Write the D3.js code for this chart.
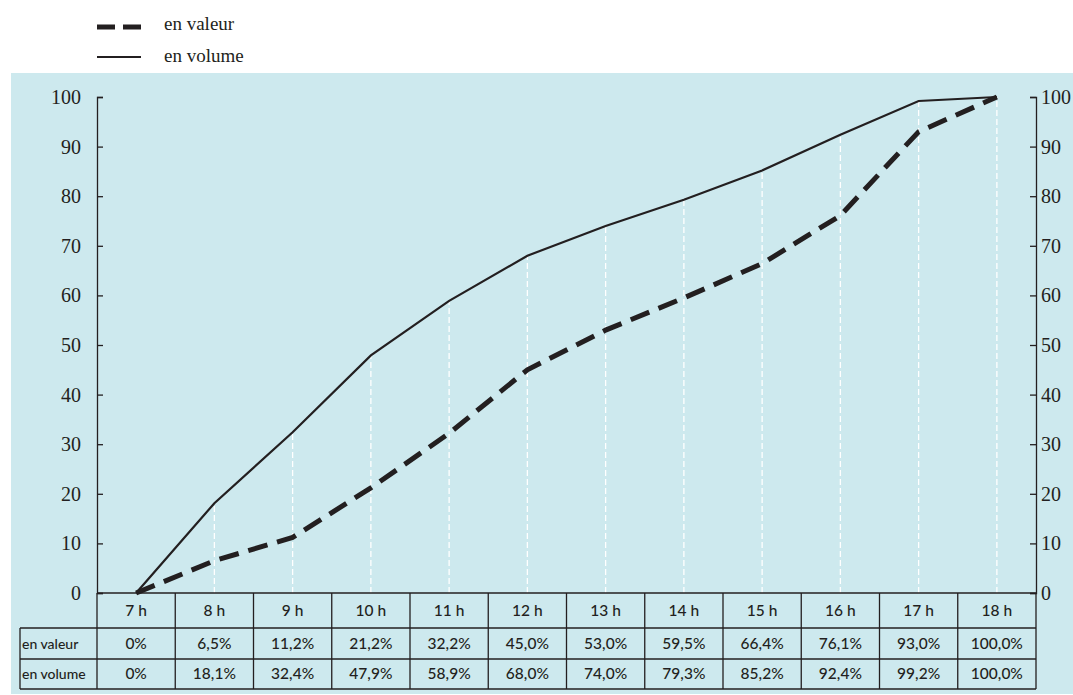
<!DOCTYPE html>
<html>
<head>
<meta charset="utf-8">
<script src="https://cdn.jsdelivr.net/npm/d3@7"></script>
<style>
  body { margin: 0; background: #fff; }
  svg { display: block; }
  .serif { font-family: "Liberation Serif", "Times New Roman", "DejaVu Serif", serif; }
  .sans { font-family: Lato, "Open Sans", sans-serif; }
</style>
</head>
<body>
<svg id="chart" width="1073" height="695"></svg>
<script>
const hours = ["7 h","8 h","9 h","10 h","11 h","12 h","13 h","14 h","15 h","16 h","17 h","18 h"];
const enValeur = [0, 6.5, 11.2, 21.2, 32.2, 45.0, 53.0, 59.5, 66.4, 76.1, 93.0, 100];
const enVolume = [0, 18.1, 32.4, 47.9, 58.9, 68.0, 74.0, 79.3, 85.2, 92.4, 99.2, 100];
const valeurLabels = ["0%","6,5%","11,2%","21,2%","32,2%","45,0%","53,0%","59,5%","66,4%","76,1%","93,0%","100,0%"];
const volumeLabels = ["0%","18,1%","32,4%","47,9%","58,9%","68,0%","74,0%","79,3%","85,2%","92,4%","99,2%","100,0%"];
const yTicks = [0,10,20,30,40,50,60,70,80,90,100];
const seriesNames = ["en valeur", "en volume"];

(function () {
const svg = d3.select("#chart");
const ink = "#231f20";

const pL = 97, pR = 1036, pT = 97, pB = 593;

// background
svg.append("rect").attr("x", 11).attr("y", 73).attr("width", 1062).attr("height", 621).attr("fill", "#cde9ee");

const x = d3.scaleBand().domain(hours).range([pL, pR]).padding(0);
const xc = d => x(d) + x.bandwidth() / 2;
const y = d3.scaleLinear().domain([0, 100]).range([pB, pT]);

// grid lines (white dashed, up to volume line)
svg.append("g").selectAll("line").data(hours).join("line")
  .attr("x1", d => xc(d)).attr("x2", d => xc(d))
  .attr("y1", pB).attr("y2", (d, i) => y(enVolume[i]))
  .attr("stroke", "#fff").attr("stroke-width", 1.3).attr("stroke-dasharray", "6,3");

// axes
const yAxisL = d3.axisLeft(y).tickValues(yTicks).tickSize(-6).tickPadding(16);
const gL = svg.append("g").attr("transform", `translate(${pL},0)`).call(yAxisL);
const yAxisR = d3.axisRight(y).tickValues(yTicks).tickSize(-6).tickPadding(5);
const gR = svg.append("g").attr("transform", `translate(${pR},0)`).call(yAxisR);
[gL, gR].forEach(g => {
  g.attr("font-family", null);
  g.select(".domain").attr("stroke", ink).attr("stroke-width", 1.3);
  g.selectAll(".tick line").attr("stroke", ink).attr("stroke-width", 1.3);
  g.selectAll(".tick text").attr("class", "serif").attr("fill", ink).attr("font-size", 20);
});

// lines
const line = d3.line().x((d, i) => xc(hours[i])).y(d => y(d));
svg.append("path").datum(enVolume).attr("d", line)
  .attr("fill", "none").attr("stroke", ink).attr("stroke-width", 2.2);
svg.append("path").datum(enValeur).attr("d", line)
  .attr("fill", "none").attr("stroke", ink).attr("stroke-width", 5).attr("stroke-dasharray", "20,10");

// table
const rowY = [pB, 628, 659, 689];
const tbl = svg.append("g").attr("stroke", ink).attr("stroke-width", 1.3);
tbl.append("line").attr("x1", pL).attr("x2", pR).attr("y1", pB).attr("y2", pB);
[1, 2, 3].forEach(k => {
  tbl.append("line").attr("x1", 20).attr("x2", pR).attr("y1", rowY[k]).attr("y2", rowY[k]);
});
const vx = hours.map(h => x(h)).concat([pR]);
tbl.selectAll("line.v").data(vx).join("line").attr("class", "v")
  .attr("x1", d => d).attr("x2", d => d).attr("y1", pB).attr("y2", rowY[3]);
tbl.append("line").attr("x1", 20).attr("x2", 20).attr("y1", rowY[1]).attr("y2", rowY[3]);

const txt = svg.append("g").attr("class", "sans").attr("fill", ink).attr("font-size", 15.5).attr("font-weight", 500).attr("text-anchor", "middle");
txt.selectAll("text.h").data(hours).join("text").attr("class", "h")
  .attr("x", d => xc(d)).attr("y", 616).text(d => d);
txt.selectAll("text.va").data(valeurLabels).join("text").attr("class", "va")
  .attr("x", (d, i) => xc(hours[i])).attr("y", 649).text(d => d);
txt.selectAll("text.vo").data(volumeLabels).join("text").attr("class", "vo")
  .attr("x", (d, i) => xc(hours[i])).attr("y", 679).text(d => d);
txt.append("text").attr("x", 22).attr("y", 649).attr("text-anchor", "start").attr("font-size", 14).text(seriesNames[0]);
txt.append("text").attr("x", 22).attr("y", 679).attr("text-anchor", "start").attr("font-size", 14).text(seriesNames[1]);

// legend
const lg = svg.append("g");
lg.append("line").attr("x1", 97).attr("x2", 141).attr("y1", 27).attr("y2", 27)
  .attr("stroke", ink).attr("stroke-width", 5).attr("stroke-dasharray", "18,8");
lg.append("line").attr("x1", 97).attr("x2", 141).attr("y1", 57).attr("y2", 57)
  .attr("stroke", ink).attr("stroke-width", 2.2);
lg.append("text").attr("class", "serif").attr("x", 164).attr("y", 30).attr("font-size", 19).attr("fill", ink).text(seriesNames[0]);
lg.append("text").attr("class", "serif").attr("x", 164).attr("y", 62).attr("font-size", 19).attr("fill", ink).text(seriesNames[1]);
})();
</script>
</body>
</html>
